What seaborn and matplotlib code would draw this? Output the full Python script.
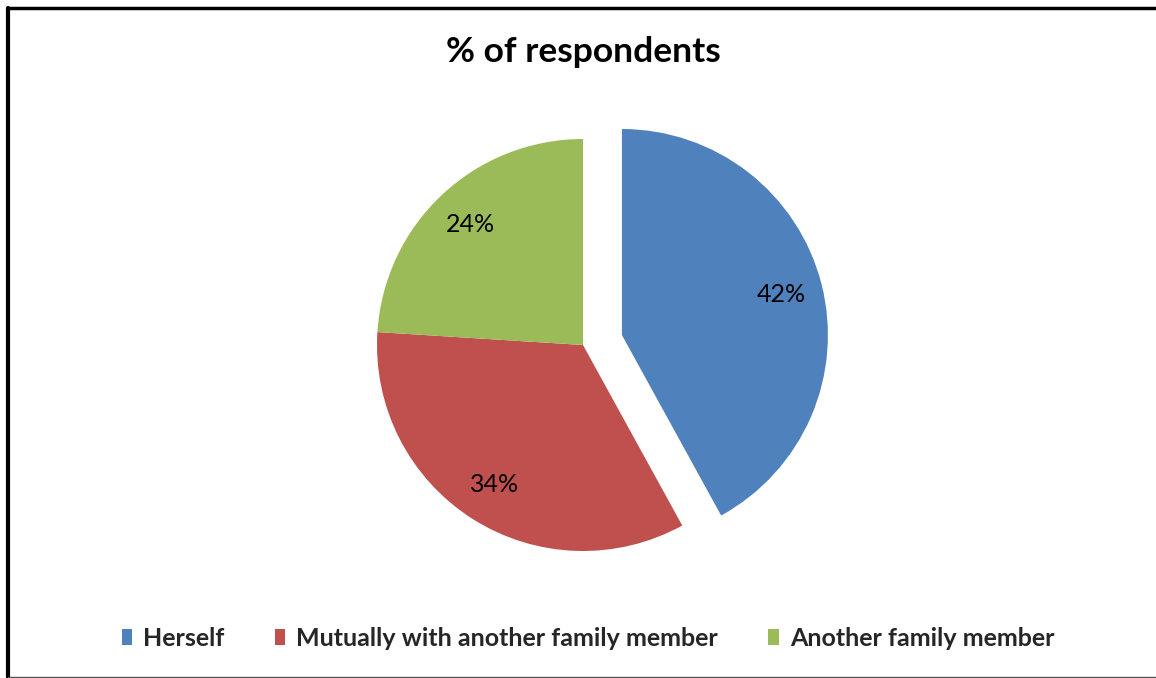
import matplotlib
matplotlib.use("Agg")
import matplotlib.pyplot as plt
from matplotlib.lines import Line2D
from matplotlib.patches import Patch
import seaborn as sns

# Who decides: share of respondents
categories = ["Herself", "Mutually with another family member", "Another family member"]
shares = [42, 34, 24]
colors = ["#4F81BD", "#C0504D", "#9BBB59"]
title = "% of respondents"

sns.set_theme(style="white")
plt.rcParams["font.family"] = ["Lato", "DejaVu Sans"]
palette = sns.color_palette(colors)

W, H = 1156, 678
fig = plt.figure(figsize=(W / 100, H / 100), dpi=100)
fig.patch.set_facecolor("white")

# square axes holding the pie
side = 480
cx, cy = 583, 345
ax = fig.add_axes([(cx - side / 2) / W, (H - cy - side / 2) / H, side / W, side / H])
ax.pie(
    shares,
    colors=palette,
    startangle=90,
    counterclock=False,
    explode=[0.195, 0, 0],
    autopct=lambda p: f"{p:.0f}%",
    pctdistance=0.8,
    textprops={"fontsize": 18, "color": "black"},
    wedgeprops={"linewidth": 0},
)
lim = side / (2 * 206)
ax.set_xlim(-lim, lim)
ax.set_ylim(-lim, lim)
ax.set_aspect("equal", adjustable="box")
ax.axis("off")

fig.text(cx / W, 1 - 52 / H, title, ha="center", va="center",
         fontsize=25.5, fontweight="bold", color="black")

handles = [Patch(facecolor=c, edgecolor="none") for c in palette]
fig.legend(handles, categories, loc="center", ncol=3,
           bbox_to_anchor=(588 / W, 1 - 638 / H), frameon=False,
           prop={"weight": "bold", "size": 18},
           handlelength=0.42, handleheight=0.6, handletextpad=0.45,
           columnspacing=2.0)

# outer frame lines
fig.add_artist(Line2D([8 / W, 1], [1 - 8 / H, 1 - 8 / H], color="black", lw=2.5,
                      transform=fig.transFigure))
fig.add_artist(Line2D([8 / W, 8 / W], [1 / H, 1 - 8 / H], color="black", lw=3,
                      transform=fig.transFigure))
fig.add_artist(Line2D([8 / W, 1], [1 / H, 1 / H], color="#555555", lw=1,
                      transform=fig.transFigure))

fig.savefig("out.png", dpi=100)
